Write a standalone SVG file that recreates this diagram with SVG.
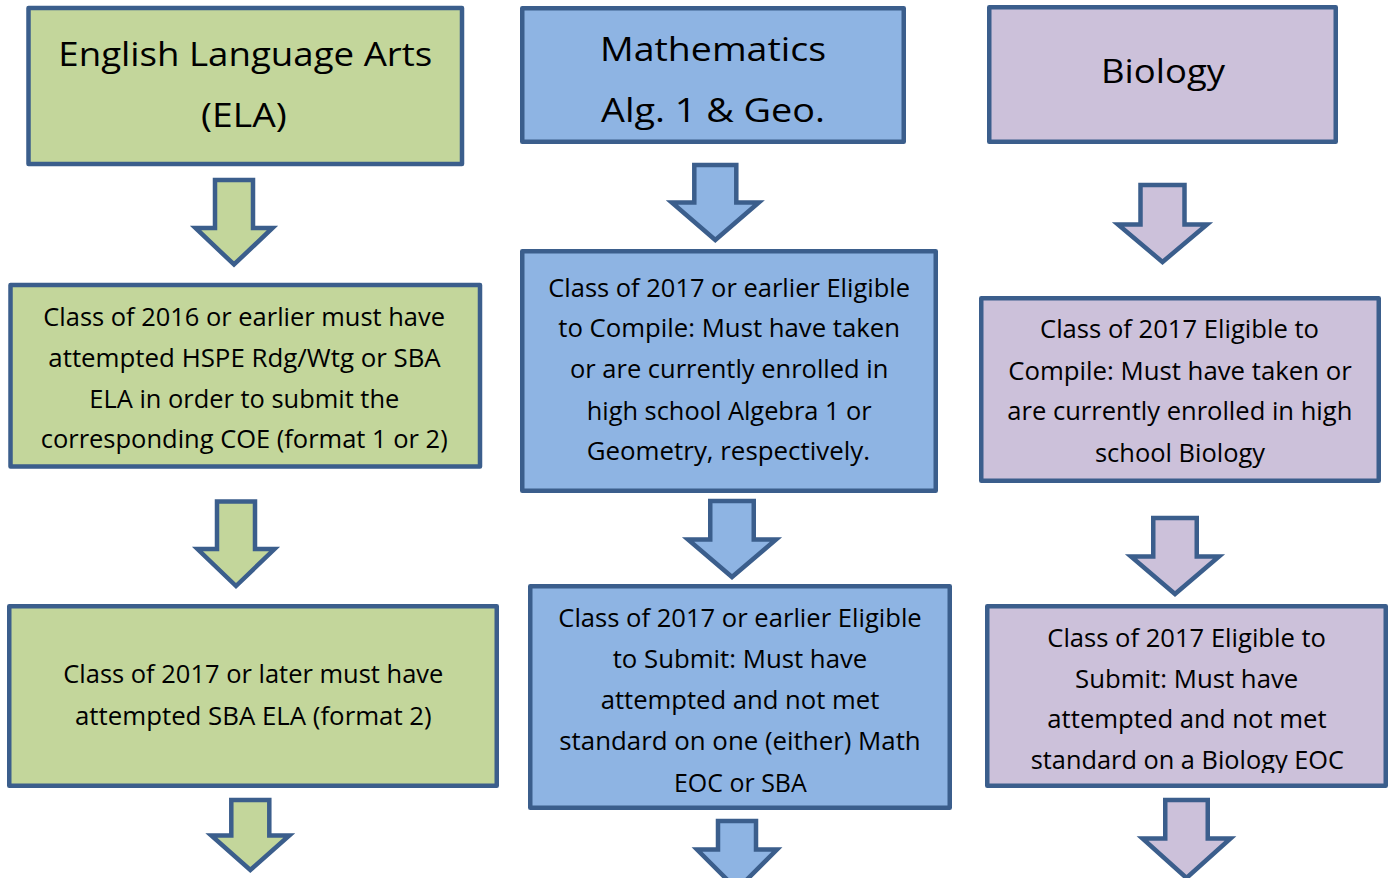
<svg xmlns="http://www.w3.org/2000/svg" width="1393" height="878" viewBox="0 0 1393 878">
<style>
.box{stroke:#3b5e8c;stroke-width:4.5;stroke-linejoin:round}
.arr{stroke:#3b5e8c;stroke-width:4.5;stroke-linejoin:miter;stroke-miterlimit:10}
.g{fill:#c3d69b}
.bl{fill:#8eb4e3}
.p{fill:#ccc1da}
text{font-family:"Open Sans","Noto Sans","Liberation Sans",sans-serif;fill:#000}
.t{font-size:32px}
.b{font-size:25px}
</style>
<defs>
<clipPath id="clipBio3"><rect x="985" y="600" width="405" height="173"/></clipPath>
</defs>
<rect width="1393" height="878" fill="#fff"/>

<g id="connectors">
<path class="arr g" d="M215,180 H253 V228 H272.5 L234,264.5 L195.5,228 H215 Z"/>
<path class="arr g" d="M217,501.5 H255 V549 H274.5 L236,586 L197.5,549 H217 Z"/>
<path class="arr g" d="M231.3,800 H269.3 V835.5 H289.3 L250.3,870 L211.3,835.5 H231.3 Z"/>
<path class="arr bl" d="M694.3,165 H736.3 V202.5 H758.8 L715.3,240 L671.8,202.5 H694.3 Z"/>
<path class="arr bl" d="M710.25,501 H753.75 V539.5 H776 L732,577 L688,539.5 H710.25 Z"/>
<path class="arr bl" d="M718,821 H756 V849.5 H777 L737,889.5 L697,849.5 H718 Z"/>
<path class="arr p" d="M1140.5,185 H1184.5 V224.5 H1207 L1162.5,262 L1118,224.5 H1140.5 Z"/>
<path class="arr p" d="M1153.25,518 H1196.75 V556.5 H1219 L1175,594 L1131,556.5 H1153.25 Z"/>
<path class="arr p" d="M1165.25,800 H1207.75 V838.5 H1230.5 L1186.5,878 L1142.5,838.5 H1165.25 Z"/>
</g>

<g id="ela-title">
<rect class="box g" x="28.5" y="8" width="433.5" height="156"/>
<text class="t" x="58.3" y="66" textLength="374" lengthAdjust="spacingAndGlyphs">English Language Arts</text>
<text class="t" x="201" y="126.5" textLength="85.7" lengthAdjust="spacingAndGlyphs">(ELA)</text>
</g>

<g id="math-title">
<rect class="box bl" x="522.25" y="8.25" width="381.5" height="133.5"/>
<text class="t" x="600" y="61" textLength="226" lengthAdjust="spacingAndGlyphs">Mathematics</text>
<text class="t" x="601" y="121.7" textLength="224" lengthAdjust="spacingAndGlyphs">Alg. 1 &amp; Geo.</text>
</g>

<g id="bio-title">
<rect class="box p" x="989.25" y="7.25" width="346.5" height="134.5"/>
<text class="t" x="1101" y="83.3" textLength="124" lengthAdjust="spacingAndGlyphs">Biology</text>
</g>

<g id="ela-compile">
<rect class="box g" x="10.5" y="285" width="469.5" height="181.5"/>
<text class="b" x="43.3" y="326" textLength="401.7" lengthAdjust="spacingAndGlyphs">Class of 2016 or earlier must have</text>
<text class="b" x="48.3" y="366.5" textLength="392.4" lengthAdjust="spacingAndGlyphs">attempted HSPE Rdg/Wtg or SBA</text>
<text class="b" x="89.3" y="407.8" textLength="310" lengthAdjust="spacingAndGlyphs">ELA in order to submit the</text>
<text class="b" x="40.7" y="448.3" textLength="407" lengthAdjust="spacingAndGlyphs">corresponding COE (format 1 or 2)</text>
</g>

<g id="math-compile">
<rect class="box bl" x="522.25" y="251.25" width="413.5" height="239.5"/>
<text class="b" x="548.3" y="296.7" textLength="361.7" lengthAdjust="spacingAndGlyphs">Class of 2017 or earlier Eligible</text>
<text class="b" x="558.3" y="336.7" textLength="341.7" lengthAdjust="spacingAndGlyphs">to Compile: Must have taken</text>
<text class="b" x="570" y="378" textLength="318.3" lengthAdjust="spacingAndGlyphs">or are currently enrolled in</text>
<text class="b" x="586.7" y="420" textLength="285" lengthAdjust="spacingAndGlyphs">high school Algebra 1 or</text>
<text class="b" x="586.7" y="460" textLength="283.3" lengthAdjust="spacingAndGlyphs">Geometry, respectively.</text>
</g>

<g id="bio-compile">
<rect class="box p" x="981.25" y="298.25" width="397.5" height="182.5"/>
<text class="b" x="1040" y="338" textLength="279" lengthAdjust="spacingAndGlyphs">Class of 2017 Eligible to</text>
<text class="b" x="1008.3" y="380" textLength="343.4" lengthAdjust="spacingAndGlyphs">Compile: Must have taken or</text>
<text class="b" x="1007.3" y="420" textLength="345" lengthAdjust="spacingAndGlyphs">are currently enrolled in high</text>
<text class="b" x="1095" y="462" textLength="170" lengthAdjust="spacingAndGlyphs">school Biology</text>
</g>

<g id="ela-submit">
<rect class="box g" x="9.25" y="606.25" width="487.5" height="179.5"/>
<text class="b" x="63.3" y="682.7" textLength="380" lengthAdjust="spacingAndGlyphs">Class of 2017 or later must have</text>
<text class="b" x="75" y="725" textLength="356.7" lengthAdjust="spacingAndGlyphs">attempted SBA ELA (format 2)</text>
</g>

<g id="math-submit">
<rect class="box bl" x="530.25" y="586.25" width="419.5" height="221.5"/>
<text class="b" x="558.3" y="626.7" textLength="363.4" lengthAdjust="spacingAndGlyphs">Class of 2017 or earlier Eligible</text>
<text class="b" x="612.7" y="668" textLength="254.6" lengthAdjust="spacingAndGlyphs">to Submit: Must have</text>
<text class="b" x="600.7" y="709" textLength="278.6" lengthAdjust="spacingAndGlyphs">attempted and not met</text>
<text class="b" x="559.3" y="750" textLength="361.4" lengthAdjust="spacingAndGlyphs">standard on one (either) Math</text>
<text class="b" x="674" y="791.7" textLength="132.7" lengthAdjust="spacingAndGlyphs">EOC or SBA</text>
</g>

<g id="bio-submit">
<rect class="box p" x="987.25" y="606.25" width="398.5" height="179.5"/>
<g clip-path="url(#clipBio3)">
<text class="b" x="1047.3" y="646.7" textLength="278.7" lengthAdjust="spacingAndGlyphs">Class of 2017 Eligible to</text>
<text class="b" x="1075" y="687.7" textLength="223.3" lengthAdjust="spacingAndGlyphs">Submit: Must have</text>
<text class="b" x="1047.3" y="728" textLength="279.4" lengthAdjust="spacingAndGlyphs">attempted and not met</text>
<text class="b" x="1030.7" y="769" textLength="313.3" lengthAdjust="spacingAndGlyphs">standard on a Biology EOC</text>
</g>
</g>
</svg>
